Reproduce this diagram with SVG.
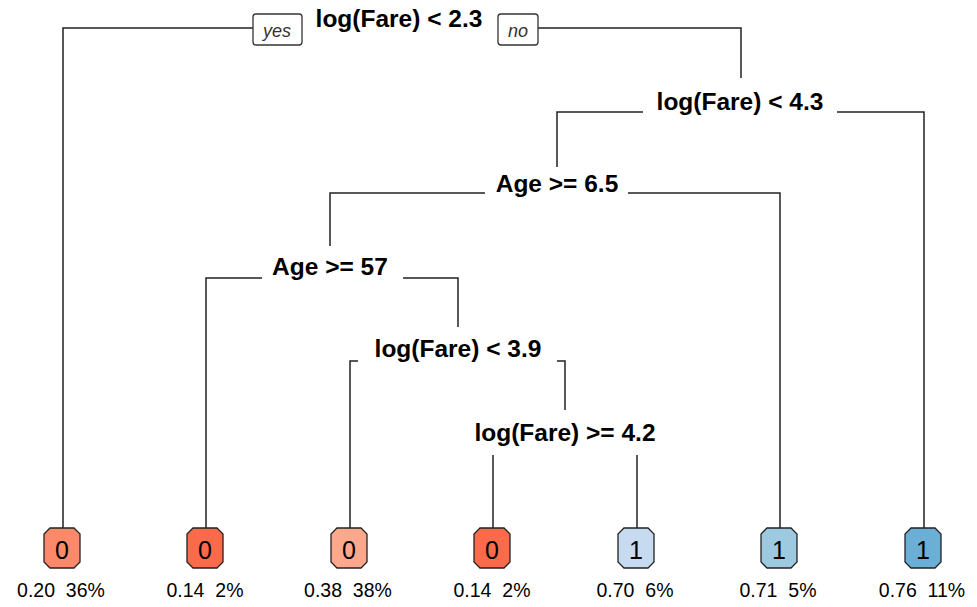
<svg xmlns="http://www.w3.org/2000/svg" width="977" height="607" viewBox="0 0 977 607">
<style>
.lbl{font-family:"Liberation Sans",Arial,sans-serif;font-weight:bold;font-size:24.5px;fill:#000;text-anchor:middle}
.yn{font-family:"Liberation Sans",Arial,sans-serif;font-style:italic;font-size:18px;fill:#333;text-anchor:middle}
.ynbox{fill:#fff;stroke:#333;stroke-width:1.3}
.cls{font-family:"Liberation Sans",Arial,sans-serif;font-size:25px;fill:#000;text-anchor:middle}
.info{font-family:"Liberation Sans",Arial,sans-serif;font-size:19.5px;fill:#000;text-anchor:middle}
.leaf{stroke:#222;stroke-width:1.3}
.br{fill:none;stroke:#222;stroke-width:1.5}
</style>
<defs>
<path id="oct" d="M-12,-20 H12 L18,-14 V14 L12,20 H-12 L-18,14 V-14 Z"/>
</defs>
<rect width="977" height="607" fill="#fff"/>
<g id="connectors">
<path class="br" d="M253,28 H63 V528"/>
<path class="br" d="M538,28 H741 V78"/>
<path class="br" d="M643,112 H557 V167"/>
<path class="br" d="M837,112 H924 V528"/>
<path class="br" d="M485,193 H330 V246"/>
<path class="br" d="M628,193 H780 V528"/>
<path class="br" d="M262,278 H206 V528"/>
<path class="br" d="M403,278 H458 V327"/>
<path class="br" d="M358,361 H350 V528"/>
<path class="br" d="M557,361 H565 V410"/>
<path class="br" d="M493,455 V528"/>
<path class="br" d="M637,455 V528"/>
</g>
<g id="yes"><rect class="ynbox" x="253" y="14" width="49" height="31" rx="3"/><text class="yn" x="277" y="37">yes</text></g>
<g id="no"><rect class="ynbox" x="498" y="14" width="40" height="31" rx="3"/><text class="yn" x="518" y="37">no</text></g>
<g id="n1"><text class="lbl" x="399" y="27">log(Fare) &lt; 2.3</text></g>
<g id="n2"><text class="lbl" x="740" y="110">log(Fare) &lt; 4.3</text></g>
<g id="n3"><text class="lbl" x="557" y="192">Age &gt;= 6.5</text></g>
<g id="n4"><text class="lbl" x="330" y="275">Age &gt;= 57</text></g>
<g id="n5"><text class="lbl" x="458" y="357">log(Fare) &lt; 3.9</text></g>
<g id="n6"><text class="lbl" x="565" y="441">log(Fare) &gt;= 4.2</text></g>
<g id="l1"><use href="#oct" class="leaf" x="62" y="548" fill="#FC8A6A"/><text class="cls" x="62" y="559">0</text><text class="info" x="61" y="597" xml:space="preserve">0.20  36%</text></g>
<g id="l2"><use href="#oct" class="leaf" x="205" y="548" fill="#FB6A4A"/><text class="cls" x="205" y="559">0</text><text class="info" x="205" y="597" xml:space="preserve">0.14  2%</text></g>
<g id="l3"><use href="#oct" class="leaf" x="349" y="548" fill="#FCA88C"/><text class="cls" x="349" y="559">0</text><text class="info" x="348" y="597" xml:space="preserve">0.38  38%</text></g>
<g id="l4"><use href="#oct" class="leaf" x="492" y="548" fill="#FB6A4A"/><text class="cls" x="492" y="559">0</text><text class="info" x="492" y="597" xml:space="preserve">0.14  2%</text></g>
<g id="l5"><use href="#oct" class="leaf" x="636" y="548" fill="#C6DBEF"/><text class="cls" x="636" y="559">1</text><text class="info" x="635" y="597" xml:space="preserve">0.70  6%</text></g>
<g id="l6"><use href="#oct" class="leaf" x="779" y="548" fill="#9ECAE1"/><text class="cls" x="779" y="559">1</text><text class="info" x="778" y="597" xml:space="preserve">0.71  5%</text></g>
<g id="l7"><use href="#oct" class="leaf" x="923" y="548" fill="#6BAED6"/><text class="cls" x="923" y="559">1</text><text class="info" x="922" y="597" xml:space="preserve">0.76  11%</text></g>
</svg>
